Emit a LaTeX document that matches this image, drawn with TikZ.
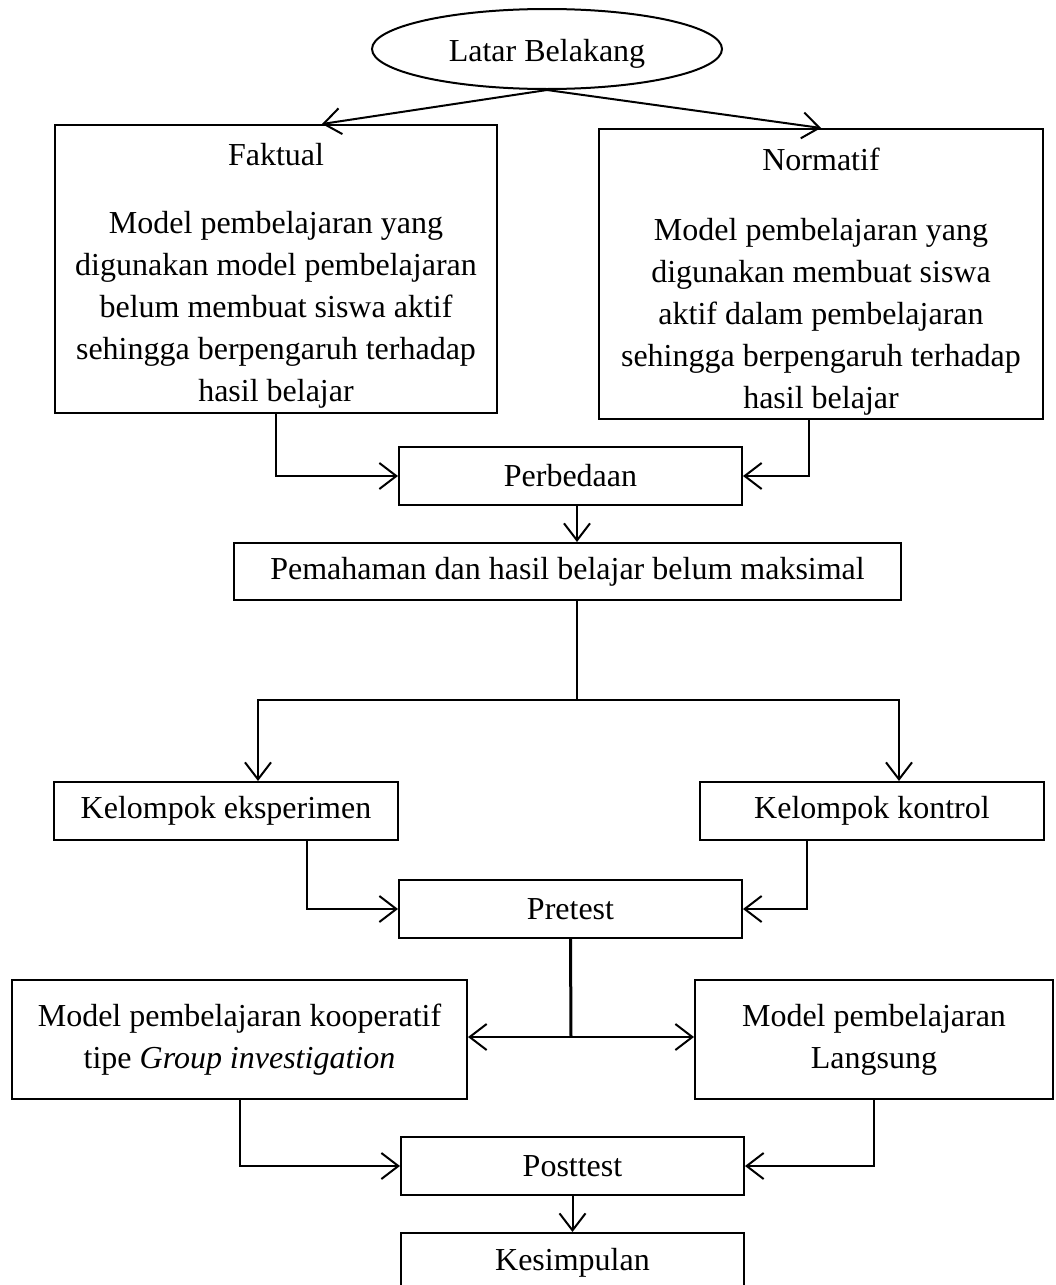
\documentclass[tikz,border=0pt]{standalone}
\usepackage{fontspec}
\setmainfont{Liberation Serif}
\usetikzlibrary{arrows.meta,shapes.geometric}
\tikzset{
  box/.style={draw, line width=2pt, align=center, inner sep=0pt},
  flow/.style={line width=2pt, -{Straight Barb[length=17pt,width=26pt]}},
}
\begin{document}
\begin{tikzpicture}[x=1pt, y=-1pt, font=\fontsize{32}{42}\selectfont]
    \useasboundingbox (0,0) rectangle (1055,1285);
    \node[ellipse, draw, line width=2pt, minimum width=350pt, minimum height=80pt, inner sep=0pt] (lb) at (547,49) {\rule{0pt}{32pt}Latar Belakang};
    \node[box, minimum width=442pt, minimum height=288pt] (fak) at (276,269)
      {\rule{0pt}{36pt}Faktual\\[26pt]Model pembelajaran yang\\digunakan model pembelajaran\\belum membuat siswa aktif\\sehingga berpengaruh terhadap\\hasil belajar};
    \node[box, minimum width=444pt, minimum height=290pt] (nor) at (821,274)
      {\rule{0pt}{37pt}Normatif\\[28pt]Model pembelajaran yang\\digunakan membuat siswa\\aktif dalam pembelajaran\\sehingga berpengaruh terhadap\\hasil belajar};
    \node[box, minimum width=343pt, minimum height=58pt] (perb) at (570.5,476) {Perbedaan};
    \node[box, minimum width=667pt, minimum height=57pt] (pem) at (567.5,571.5) {Pemahaman dan hasil belajar belum maksimal};
    \coordinate (split) at (577,700);
    \node[box, minimum width=344pt, minimum height=58pt] (eks) at (226,811) {Kelompok eksperimen};
    \node[box, minimum width=344pt, minimum height=58pt] (kon) at (872,811) {Kelompok kontrol};
    \node[box, minimum width=343pt, minimum height=58pt] (pre) at (570.5,909) {Pretest};
    \coordinate (pj) at (571,1037);
    \node[box, minimum width=455pt, minimum height=119pt] (gi) at (239.5,1039.5) {Model pembelajaran kooperatif\\tipe \textit{Group investigation}};
    \node[box, minimum width=358pt, minimum height=119pt] (ls) at (874,1039.5) {Model pembelajaran\\Langsung};
    \node[box, minimum width=343pt, minimum height=58pt] (post) at (572.5,1166) {Posttest};
    \node[box, minimum width=343pt, minimum height=59pt] (kes) at (572.5,1262.5) {Kesimpulan};
    \draw[flow] (lb.south) -- ([xshift=46pt]fak.north);
    \draw[flow] (lb.south) -- (nor.north);
    \draw[flow] (fak.south) |- (perb.west);
    \draw[flow] ([xshift=-12pt]nor.south) |- (perb.east);
    \draw[flow] (perb.south -| split) -- (pem.north -| split);
    \draw[line width=1.2pt] (pem.south -| split) -- (split);
    \draw[flow] (split) -| ([xshift=32pt]eks.north);
    \draw[flow] (split) -| ([xshift=27pt]kon.north);
    \draw[flow] ([xshift=81pt]eks.south) |- (pre.west);
    \draw[flow] ([xshift=-65pt]kon.south) |- (pre.east);
    \draw[line width=3pt] (pre.south) -- (pj);
    \draw[flow] (pj) -- (pj -| gi.east);
    \draw[flow] (pj) -- (pj -| ls.west);
    \draw[flow] (gi.south) |- (post.west);
    \draw[flow] (ls.south) |- (post.east);
    \draw[flow] (post.south) -- (kes.north);
\end{tikzpicture}
\end{document}
